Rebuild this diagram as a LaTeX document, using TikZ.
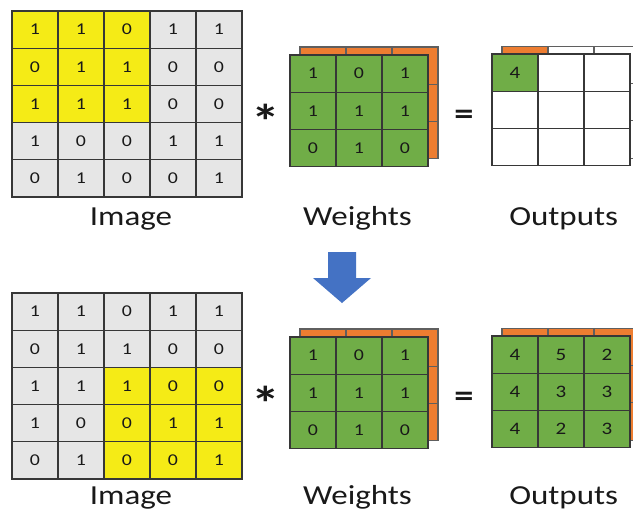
\documentclass[tikz,border=0pt]{standalone}
\usepackage{fontspec}
\setmainfont{Carlito}[FakeStretch=1.2]
\definecolor{hiyellow}{RGB}{245,235,22}
\definecolor{cellgray}{RGB}{230,230,230}
\definecolor{wgreen}{RGB}{112,173,71}
\definecolor{worange}{RGB}{237,125,49}
\definecolor{gridline}{RGB}{55,55,55}
\definecolor{backline}{RGB}{95,95,95}
\definecolor{arrowblue}{RGB}{68,114,196}
\definecolor{ink}{RGB}{25,25,25}
\tikzset{
  cellbox/.style={draw=gridline, line width=1.1pt, minimum width=46pt, minimum height=37.2pt,
    inner sep=0pt, outer sep=0pt, text=ink, font=\fontsize{16.5}{16.5}\selectfont},
  backbox/.style={draw=backline, line width=1.1pt, minimum width=46pt, minimum height=37.2pt,
    inner sep=0pt, outer sep=0pt},
  outbox/.style={cellbox, font=\fontsize{17.5}{17.5}\selectfont},
  caption/.style={anchor=base, text=ink, font=\fontsize{27.5}{27.5}\selectfont},
  starsign/.style={anchor=base, text=ink, font=\fontsize{48}{48}\selectfont\bfseries},
  eqsign/.style={anchor=base, text=ink, font=\fontsize{32}{32}\selectfont\bfseries},
}
\begin{document}
\begin{tikzpicture}[x=1pt, y=-1pt]
\useasboundingbox (0,0) rectangle (633,512);
\clip (0,0) rectangle (633,512);
\fill[white] (0,0) rectangle (633,512);

% two panels: vertical shift, name prefix, top-left corner of the highlighted window,
% baseline of the captions
\foreach \dy/\pn/\hx/\hy/\cy in {0/a/0/0/225.7, 282/b/2/2/504.5} {
  % input image, 5x5
  \foreach \row [count=\r from 0] in {{1,1,0,1,1},{0,1,1,0,0},{1,1,1,0,0},{1,0,0,1,1},{0,1,0,0,1}} {
    \foreach \v [count=\c from 0] in \row {
      \pgfmathtruncatemacro\hl{and(and(\r>=\hy,\r<\hy+3),and(\c>=\hx,\c<\hx+3))}
      \ifnum\hl=1 \def\cf{hiyellow}\else\def\cf{cellgray}\fi
      \node[cellbox, fill=\cf] (img\pn-\r-\c) at (35+46*\c, 29.6+37.2*\r+\dy) {\v};
    }
  }
  \node[caption] (imgcap\pn) at (131, \cy) {Image};

  % kernel: orange layer behind, green layer in front
  \foreach \r in {0,1,2} {
    \foreach \c in {0,1,2} {
      \node[backbox, fill=worange] (wback\pn-\r-\c) at (323+46*\c, 65.6+37.2*\r+\dy) {};
    }
  }
  \foreach \row [count=\r from 0] in {{1,0,1},{1,1,1},{0,1,0}} {
    \foreach \v [count=\c from 0] in \row {
      \node[cellbox, fill=wgreen] (w\pn-\r-\c) at (313+46*\c, 73.6+37.2*\r+\dy) {\v};
    }
  }
  \node[caption] (wcap\pn) at (357.5, \cy) {Weights};
  \node[caption] (ocap\pn) at (563.7, \cy) {Outputs};

  % operators
  \node[starsign] (star\pn) at (266, 138.5+\dy) {*};
  \node[eqsign] (eq\pn) at (464, 124.5+\dy) {=};
}

% output maps, first step: one value filled in
\foreach \r in {0,1,2} {
  \foreach \c in {0,1,2} {
    \pgfmathtruncatemacro\first{and(\r==0,\c==0)}
    \ifnum\first=1 \def\cf{worange}\else\def\cf{white}\fi
    \node[backbox, fill=\cf] (oback-a-\r-\c) at (525+46*\c, 65.1+37.2*\r) {};
  }
}
\foreach \r in {0,1,2} {
  \foreach \c in {0,1,2} {
    \node[outbox, fill=white] (oa-\r-\c) at (515+46*\c, 72.6+37.2*\r) {};
  }
}
\node[outbox, fill=wgreen] (oa-first) at (oa-0-0) {4};

% output maps, complete
\foreach \r in {0,1,2} {
  \foreach \c in {0,1,2} {
    \node[backbox, fill=worange] (oback-b-\r-\c) at (525+46*\c, 65.1+37.2*\r+282) {};
  }
}
\foreach \row [count=\r from 0] in {{4,5,2},{4,3,3},{4,2,3}} {
  \foreach \v [count=\c from 0] in \row {
    \node[outbox, fill=wgreen] (ob-\r-\c) at (515+46*\c, 72.6+37.2*\r+282) {\v};
  }
}

% step arrow between the panels
\fill[arrowblue] (328,252) -- (356,252) -- (356,278) -- (371,278) -- (342,303)
  -- (313,278) -- (328,278) -- cycle;
\end{tikzpicture}
\end{document}
